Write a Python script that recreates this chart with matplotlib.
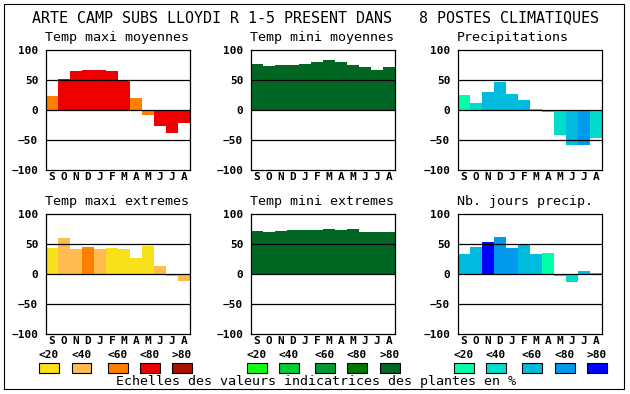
import matplotlib
matplotlib.use("Agg")
import matplotlib.pyplot as plt
from matplotlib.patches import Rectangle

W, H = 630, 394

months = ["S", "O", "N", "D", "J", "F", "M", "A", "M", "J", "J", "A"]
scale_labels = ["<20", "<40", "<60", "<80", ">80"]

# colour scales (index 0..4 = <20 .. >80)
temp_cols = ["#F8E11A", "#FFBB50", "#FF8000", "#EE0000", "#AA1100"]
green_cols = ["#11FF11", "#00CC33", "#009933", "#007700", "#006622"]
blue_cols = ["#00FFAA", "#00DDCC", "#00BBDD", "#0099EE", "#0000FF"]

# values and colour class for each month
tmax_moy = [23, 52, 65, 67, 67, 65, 49, 20, -8, -26, -38, -21]
tmax_moy_cls = [2, 3, 3, 3, 3, 3, 3, 2, 2, 3, 3, 3]

tmin_moy = [77, 73, 75, 75, 77, 80, 83, 80, 75, 72, 67, 72]
tmin_moy_cls = [4] * 12

precip = [25, 12, 30, 47, 27, 17, 2, -3, -41, -58, -58, -47]
precip_cls = [0, 1, 2, 2, 2, 2, 0, 1, 1, 2, 3, 1]

tmax_ext = [44, 60, 42, 45, 42, 44, 42, 27, 47, 14, -4, -11]
tmax_ext_cls = [0, 1, 1, 2, 1, 0, 0, 0, 0, 1, 1, 1]

tmin_ext = [72, 70, 72, 74, 74, 74, 75, 74, 75, 70, 70, 70]
tmin_ext_cls = [4] * 12

nb_jours = [34, 45, 54, 62, 44, 49, 34, 35, -3, -14, 5, 2]
nb_jours_cls = [2, 2, 4, 3, 3, 2, 2, 0, 1, 1, 2, 1]

panels = [
    ("Temp maxi moyennes", tmax_moy, tmax_moy_cls, temp_cols, 46, 50),
    ("Temp mini moyennes", tmin_moy, tmin_moy_cls, green_cols, 251, 50),
    ("Precipitations", precip, precip_cls, blue_cols, 458, 50),
    ("Temp maxi extremes", tmax_ext, tmax_ext_cls, temp_cols, 46, 214),
    ("Temp mini extremes", tmin_ext, tmin_ext_cls, green_cols, 251, 214),
    ("Nb. jours precip.", nb_jours, nb_jours_cls, blue_cols, 458, 214),
]

mono = "DejaVu Sans Mono"

fig = plt.figure(figsize=(W / 100, H / 100), dpi=100)

# outer frame
fig.add_artist(Rectangle((4 / W, 1 - 389 / H), 620 / W, 385 / H,
                         transform=fig.transFigure, fill=False,
                         edgecolor="black", linewidth=0.8))

fig.text(315 / W, 1 - 18 / H,
         "ARTE CAMP SUBS LLOYDI R 1-5 PRESENT DANS   8 POSTES CLIMATIQUES",
         ha="center", va="center", family=mono, fontsize=10.8)

for title, vals, cls, cols, x0, y0 in panels:
    ax = fig.add_axes([x0 / W, 1 - (y0 + 120) / H, 144 / W, 120 / H])
    ax.bar(range(12), vals, width=1.0, color=[cols[c] for c in cls],
           linewidth=0, zorder=2)
    for yv in (-50, 0, 50):
        ax.axhline(yv, color="black", linewidth=0.9, zorder=3)
    ax.set_xlim(-0.5, 11.5)
    ax.set_ylim(-100, 100)
    ax.set_yticks([-100, -50, 0, 50, 100])
    ax.set_xticks(range(12))
    ax.set_xticklabels(months)
    ax.tick_params(length=0)
    ax.tick_params(axis="y", pad=5.5)
    ax.tick_params(axis="x", pad=1.5)
    for lab in ax.get_xticklabels() + ax.get_yticklabels():
        lab.set_family(mono)
        lab.set_fontweight("bold")
        lab.set_fontsize(8)
    for s in ax.spines.values():
        s.set_linewidth(0.9)
    ax.set_title(title, loc="left", family=mono, fontsize=9.6, pad=6.5,
                 x=-0.01)

# legend of colour scales
box_x = [
    [39, 71.5, 108, 140, 172],
    [246.5, 279, 315, 347, 379.5],
    [454, 486, 522, 554.5, 586.5],
]
for grp, cols in zip(box_x, [temp_cols, green_cols, blue_cols]):
    for bx, col, lab in zip(grp, cols, scale_labels):
        fig.add_artist(Rectangle((bx / W, 1 - 373 / H), 20 / W, 10 / H,
                                 transform=fig.transFigure, facecolor=col,
                                 edgecolor="black", linewidth=0.8))
        fig.text((bx + 10) / W, 1 - 355 / H, lab, ha="center", va="center",
                 family=mono, fontweight="bold", fontsize=8)

fig.text(316 / W, 1 - 382 / H,
         "Echelles des valeurs indicatrices des plantes en %",
         ha="center", va="center", family=mono, fontsize=9.6)

fig.savefig("out.png", dpi=100)
